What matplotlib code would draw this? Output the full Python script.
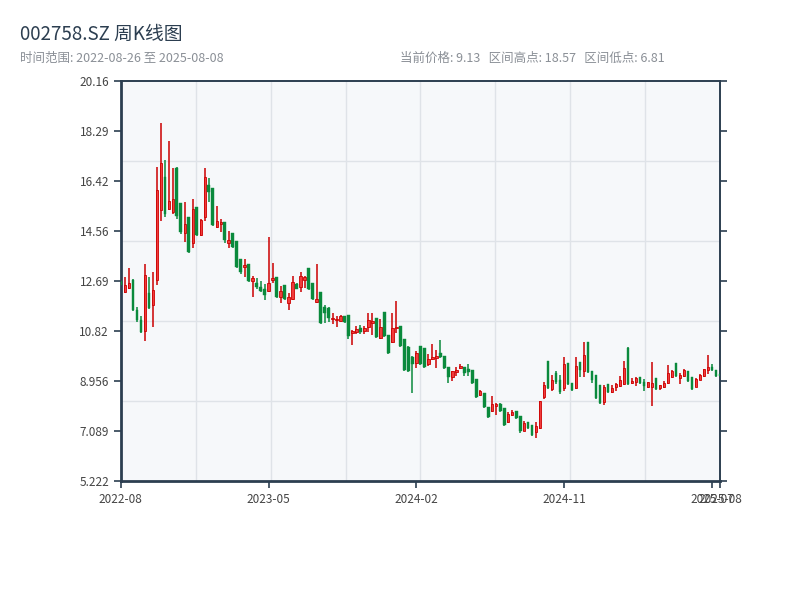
import numpy as np
import pandas as pd
import matplotlib
matplotlib.use("Agg")
import matplotlib.pyplot as plt

plt.rcParams['font.family'] = ['Noto Sans CJK SC', 'DejaVu Sans']

ticker = "002758.SZ"
start_date = "2022-08-26"
end_date = "2025-08-08"
holiday_weeks = ["2022-10-07", "2023-01-27", "2023-10-06", "2024-02-16"]

opens = [12.70, 12.26, 12.42, 12.71, 11.59, 11.22, 10.83, 12.22, 11.77, 12.71,
         15.32, 16.55, 15.36, 15.25, 16.90, 15.58, 14.47, 15.06, 14.10, 15.43,
         14.39, 15.06, 16.25, 16.14, 14.69, 14.80, 14.87, 14.10, 14.46, 14.17,
         13.50, 13.22, 13.30, 12.70, 12.60, 12.45, 12.38, 12.30, 12.71, 12.82,
         12.08, 12.52, 11.88, 12.00, 12.56, 12.45, 12.72, 13.16, 12.60, 11.90,
         12.26, 11.70, 11.66, 11.25, 11.22, 11.18, 11.36, 11.40, 10.73, 10.77,
         10.92, 10.80, 10.95, 11.10, 11.29, 10.55, 11.51, 10.66, 10.40, 10.92,
         10.99, 10.50, 10.22, 9.83, 9.61, 10.25, 10.17, 9.60, 9.76, 9.80,
         9.98, 9.87, 9.46, 9.09, 9.28, 9.42, 9.46, 9.38, 9.35, 9.01,
         8.41, 8.49, 7.97, 7.82, 8.00, 8.10, 7.93, 7.41, 7.67, 7.82,
         7.63, 7.10, 7.41, 7.30, 7.03, 7.18, 8.34, 9.69, 8.64, 9.24,
         8.98, 8.68, 9.61, 8.86, 8.68, 9.65, 9.31, 10.40, 9.31, 9.16,
         8.79, 8.15, 8.83, 8.53, 8.71, 8.75, 8.83, 10.20, 8.86, 8.90,
         9.09, 8.90, 8.73, 8.73, 9.05, 8.68, 8.71, 8.87, 9.09, 9.61,
         9.05, 9.13, 9.31, 9.09, 8.73, 9.00, 9.13, 9.35, 9.46, 9.35,
         9.22]
closes = [12.55, 12.52, 12.60, 11.59, 11.22, 10.77, 12.90, 11.66, 12.33, 16.07,
          17.08, 15.20, 15.66, 15.73, 15.10, 14.50, 14.80, 13.76, 15.36, 14.39,
          14.95, 16.55, 15.99, 14.76, 14.91, 14.88, 14.20, 14.20, 13.94, 13.20,
          13.00, 13.27, 12.67, 12.80, 12.45, 12.30, 12.15, 12.60, 12.78, 12.08,
          12.30, 12.00, 12.08, 12.63, 12.40, 12.86, 12.82, 12.37, 12.00, 12.00,
          11.10, 11.50, 11.29, 11.29, 11.25, 11.36, 11.14, 10.62, 10.80, 10.88,
          10.77, 10.92, 11.22, 11.18, 10.58, 10.95, 10.62, 9.98, 10.92, 10.95,
          10.25, 9.35, 9.31, 9.57, 9.98, 9.57, 9.46, 9.76, 9.83, 9.87,
          9.83, 9.42, 9.09, 9.31, 9.35, 9.50, 9.24, 9.28, 8.86, 8.34,
          8.56, 7.97, 7.60, 8.08, 8.08, 7.82, 7.30, 7.71, 7.78, 7.56,
          7.10, 7.37, 7.18, 6.92, 7.26, 8.19, 8.79, 8.68, 8.98, 8.90,
          8.53, 9.57, 8.83, 8.60, 9.50, 9.35, 9.91, 9.28, 8.98, 8.30,
          8.12, 8.71, 8.53, 8.68, 8.83, 9.00, 9.42, 8.83, 8.94, 9.05,
          8.86, 8.75, 8.90, 8.86, 8.64, 8.79, 8.87, 9.24, 9.31, 9.13,
          9.16, 9.35, 8.94, 8.64, 9.01, 9.18, 9.38, 9.46, 9.35, 9.13,
          9.13]
highs = [12.75, 12.82, 13.16, 12.75, 11.70, 11.37, 13.30, 12.82, 13.00, 16.93,
         18.57, 17.20, 17.90, 16.90, 16.92, 15.60, 15.62, 15.08, 15.73, 15.45,
         14.98, 16.90, 16.52, 16.16, 15.47, 14.99, 14.90, 14.54, 14.48, 14.19,
         13.52, 13.49, 13.32, 12.86, 12.80, 12.68, 12.56, 14.31, 13.35, 12.84,
         12.49, 12.54, 12.22, 12.86, 12.60, 13.00, 12.86, 13.18, 12.62, 13.30,
         12.28, 11.80, 11.73, 11.47, 11.36, 11.40, 11.38, 11.42, 10.85, 10.99,
         11.03, 11.00, 11.50, 11.47, 11.31, 11.25, 11.53, 10.68, 11.47, 11.92,
         11.01, 10.52, 10.24, 9.87, 10.06, 10.27, 10.19, 9.94, 10.32, 10.10,
         10.47, 9.89, 9.48, 9.33, 9.46, 9.57, 9.48, 9.57, 9.37, 9.03,
         8.63, 8.51, 7.99, 8.40, 8.12, 8.12, 7.95, 7.80, 7.86, 7.84,
         7.65, 7.45, 7.43, 7.32, 7.41, 8.21, 8.90, 9.71, 9.16, 9.31,
         9.16, 9.83, 9.63, 8.88, 9.83, 9.67, 10.40, 10.42, 9.33, 9.18,
         8.81, 8.79, 8.85, 8.79, 8.87, 9.13, 9.69, 10.22, 9.05, 9.09,
         9.11, 9.01, 8.92, 9.65, 9.07, 8.81, 8.94, 9.54, 9.35, 9.63,
         9.24, 9.40, 9.33, 9.11, 9.05, 9.20, 9.40, 9.91, 9.57, 9.37,
         9.26]
lows = [12.50, 12.24, 12.40, 11.57, 11.15, 10.75, 10.43, 11.62, 10.96, 12.52,
        14.91, 15.06, 15.32, 15.20, 15.00, 14.45, 14.13, 13.74, 13.90, 14.35,
        14.37, 14.91, 15.62, 14.74, 14.65, 14.50, 14.10, 13.90, 13.90, 13.18,
        12.95, 12.85, 12.65, 12.08, 12.37, 12.28, 11.96, 12.28, 12.60, 12.06,
        11.85, 11.98, 11.60, 11.98, 12.38, 12.26, 12.41, 12.35, 11.98, 11.85,
        11.08, 11.10, 11.17, 11.07, 10.96, 11.15, 11.12, 10.50, 10.28, 10.70,
        10.70, 10.70, 10.77, 10.66, 10.56, 10.50, 10.60, 9.96, 10.37, 10.73,
        10.23, 9.33, 9.29, 8.49, 9.42, 9.55, 9.44, 9.50, 9.72, 9.42,
        9.81, 9.40, 8.86, 8.94, 9.13, 9.38, 9.13, 9.13, 8.84, 8.32,
        8.38, 7.95, 7.58, 7.78, 7.67, 7.80, 7.28, 7.39, 7.64, 7.54,
        7.00, 7.08, 7.16, 6.90, 6.81, 7.16, 8.27, 8.66, 8.56, 8.83,
        8.45, 8.56, 8.81, 8.58, 8.66, 9.09, 9.09, 9.26, 8.86, 8.28,
        8.10, 8.07, 8.51, 8.51, 8.56, 8.73, 8.81, 8.81, 8.83, 8.75,
        8.84, 8.56, 8.68, 8.00, 8.62, 8.60, 8.69, 8.85, 9.07, 9.11,
        8.83, 9.11, 8.92, 8.62, 8.71, 8.98, 9.11, 9.20, 9.33, 9.11,
        9.05]

dates = pd.date_range(start_date, end_date, freq="W-FRI")
dates = dates[~dates.isin(pd.to_datetime(holiday_weeks))]
n = len(dates)
tick_idx = [0, 37, 74, 111, 148, n - 1]
tick_labels = [dates[i].strftime("%Y-%m") for i in tick_idx]

o = np.array(opens); c = np.array(closes); h = np.array(highs); l = np.array(lows)
x = np.arange(n)
up = c >= o

RED_EDGE = "#cc0000"
RED_FILL = "#f03c3c"
GREEN = "#0a8a3c"
DARK = "#2c3e50"

fig = plt.figure(figsize=(8, 6), dpi=100)
ax = fig.add_axes([0.151, 0.1985, 0.749, 0.667])
ax.set_facecolor("#f6f8fa")

ylo, yhi = 5.222, 20.158
ax.set_xlim(0, n - 1)
ax.set_ylim(ylo, yhi)

# background grid (equal divisions of the plot area)
for k in range(1, 8):
    ax.axvline((n - 1) * k / 8, color="#dfe3e8", lw=1.0, zorder=0)
for k in range(1, 5):
    ax.axhline(ylo + (yhi - ylo) * k / 5, color="#dfe3e8", lw=1.0, zorder=0)

# wicks
ax.vlines(x[up], l[up], h[up], color=RED_EDGE, lw=1.1, zorder=2)
ax.vlines(x[~up], l[~up], h[~up], color=GREEN, lw=1.1, zorder=2)

bottoms = np.minimum(o, c)
heights = np.maximum(np.abs(c - o), 0.04)
ax.bar(x[up], heights[up], bottom=bottoms[up], width=0.58,
       color=RED_FILL, edgecolor=RED_EDGE, linewidth=0.6, zorder=3)
ax.bar(x[~up], heights[~up], bottom=bottoms[~up], width=0.62,
       color=GREEN, edgecolor=GREEN, linewidth=0.3, zorder=3)

yt = np.linspace(ylo, yhi, 9)
ax.set_yticks(yt)
ax.set_yticklabels([f"{v:.4g}" for v in yt])
ax.set_xticks(tick_idx)
ax.set_xticklabels(tick_labels)
ax.tick_params(axis="both", colors=DARK, labelcolor="#444444", labelsize=8.5,
               length=5, width=1.2, direction="out")
ax.tick_params(axis="y", right=True, labelright=False)
for name, s in ax.spines.items():
    s.set_color(DARK)
    s.set_linewidth(2.0 if name in ("left", "bottom") else 1.4)

fig.text(0.025, 0.942, f"{ticker} 周K线图", fontsize=13.5, color=DARK,
         ha="left", va="center")
fig.text(0.025, 0.903, f"时间范围: {start_date} 至 {end_date}", fontsize=9,
         color="#8a8f96", ha="left", va="center")
fig.text(0.5, 0.903,
         f"当前价格: {c[-1]:.2f}   区间高点: {h.max():.2f}   区间低点: {l.min():.2f}",
         fontsize=9, color="#8a8f96", ha="left", va="center")

fig.savefig("out.png", dpi=100)
